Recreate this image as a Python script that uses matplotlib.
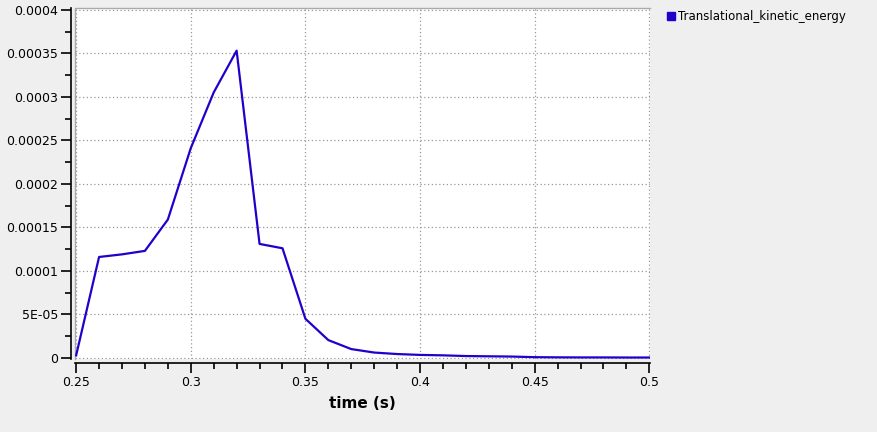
import numpy as np
import matplotlib
matplotlib.use('Agg')
import matplotlib.pyplot as plt
from matplotlib.lines import Line2D
from matplotlib.ticker import MultipleLocator, FuncFormatter

# data
time = [0.25, 0.26, 0.27, 0.28, 0.29, 0.30, 0.31, 0.32, 0.33, 0.34, 0.35,
        0.36, 0.37, 0.38, 0.39, 0.40, 0.41, 0.42, 0.43, 0.44, 0.45, 0.46,
        0.47, 0.48, 0.49, 0.50]
energy = [0.000003, 0.000116, 0.000119, 0.000123, 0.000159, 0.000241,
          0.000305, 0.000353, 0.000131, 0.000126, 0.000045, 0.0000205,
          0.0000102, 0.0000062, 0.0000045, 0.0000035, 0.000003, 0.0000022,
          0.0000019, 0.0000016, 0.0000009, 0.0000007, 0.0000006, 0.0000006,
          0.0000005, 0.0000005]
series_name = 'Translational_kinetic_energy'
x_label = 'time (s)'

W, H = 877, 432
fig = plt.figure(figsize=(W / 100, H / 100), dpi=100, facecolor='#efefef')
ax = fig.add_axes([75 / W, 1 - 359 / H, 575 / W, 351 / H])
ax.set_facecolor('white')

line_color = '#2200cc'
ax.plot(time, energy, color=line_color, lw=1.6)

ax.set_xlim(0.2495, 0.5003)
ax.set_ylim(-0.0000012, 0.000402)

ax.xaxis.set_major_locator(MultipleLocator(0.05))
ax.xaxis.set_minor_locator(MultipleLocator(0.01))
ax.yaxis.set_major_locator(MultipleLocator(0.00005))
ax.yaxis.set_minor_locator(MultipleLocator(0.000025))


def yfmt(v, pos):
    if abs(v) < 1e-12:
        return '0'
    if abs(v - 0.00005) < 1e-9:
        return '5E-05'
    return ('%.5f' % v).rstrip('0')


def xfmt(v, pos):
    return ('%.2f' % v).rstrip('0').rstrip('.')


ax.yaxis.set_major_formatter(FuncFormatter(yfmt))
ax.xaxis.set_major_formatter(FuncFormatter(xfmt))

ax.grid(True, which='major', color='#999999', linestyle=(0, (1, 2)), lw=0.9)

for s in ['top', 'right']:
    ax.spines[s].set_visible(False)
ax.spines['left'].set_position(('outward', 3))
ax.spines['bottom'].set_position(('outward', 3))
ax.spines['left'].set_linewidth(1.2)
ax.spines['bottom'].set_linewidth(1.2)

# thin grey border on the top and left of the plotting area
border = Line2D([0, 0, 1], [0, 1, 1], transform=ax.transAxes,
                color='#aaaaaa', lw=1.0, zorder=0.5, clip_on=False)
ax.add_line(border)

ax.tick_params(which='major', length=7, width=1.2, labelsize=9, pad=2)
ax.tick_params(which='minor', length=4.5, width=1.2)

ax.set_xlabel(x_label, fontsize=11, fontweight='bold', labelpad=5)

handle = Line2D([], [], marker='s', color=line_color, linestyle='none',
                markersize=6)
fig.legend([handle], [series_name], loc='upper left',
           bbox_to_anchor=(659 / W, 1 - 2 / H), frameon=False,
           fontsize=8.5, handlelength=0.6, handletextpad=0.35,
           borderaxespad=0.3)

fig.savefig('out.png', dpi=100, facecolor=fig.get_facecolor())
